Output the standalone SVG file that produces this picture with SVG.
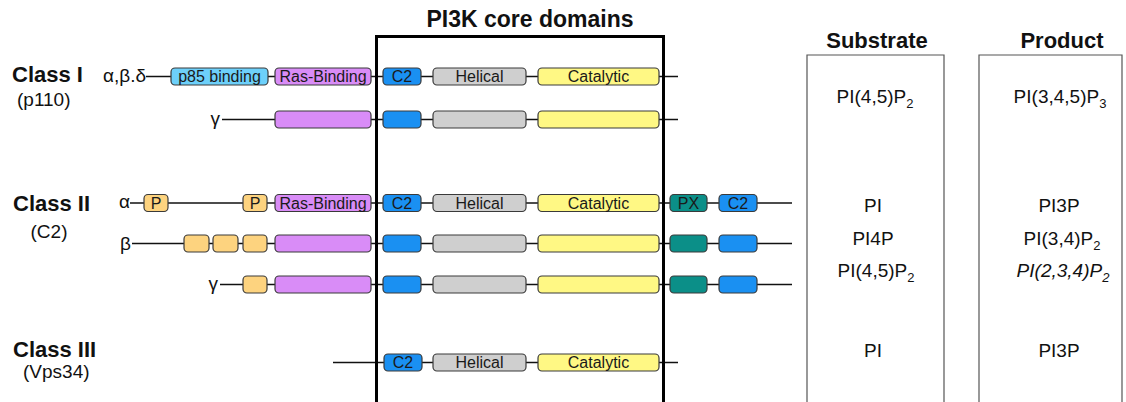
<svg xmlns="http://www.w3.org/2000/svg" width="1126" height="402" viewBox="0 0 1126 402">
<style>
text{font-family:"Liberation Sans",Arial,sans-serif;fill:#111}
.cls{font-size:22px;font-weight:bold}
.sub{font-size:19px}
.iso{font-size:19px}
.hdr{font-size:23px;font-weight:bold}
.lbl{font-size:16px;fill:#1a1a1a;text-anchor:middle}
.tb{font-size:19px;text-anchor:middle}
.dom{stroke:#3a3a3a;stroke-width:1.2;rx:4;ry:4}
.p85{fill:#6dd0fa}.ras{fill:#d98cf7}.c2{fill:#1a90f2}.hel{fill:#cfcfcf}.cat{fill:#fff884}.pp{fill:#fdd37f}.px{fill:#0b8f88}
.bb{stroke:#111;stroke-width:1.4;fill:none}
.tbl{stroke:#555;stroke-width:1.2;fill:none}
</style>

<g id="connectors">
<line class="bb" x1="146" y1="76.5" x2="678" y2="76.5"/>
<line class="bb" x1="222" y1="119.5" x2="678" y2="119.5"/>
<line class="bb" x1="130" y1="203" x2="792" y2="203"/>
<line class="bb" x1="132" y1="243.5" x2="792" y2="243.5"/>
<line class="bb" x1="220" y1="284.5" x2="792" y2="284.5"/>
<line class="bb" x1="333" y1="362.5" x2="678" y2="362.5"/>
</g>

<g id="core-box">
<rect x="376.5" y="36.5" width="287" height="380" fill="none" stroke="#000" stroke-width="3"/>
<text x="530" y="27" class="hdr" text-anchor="middle">PI3K core domains</text>
</g>

<g id="class-I">
<text x="12" y="82" class="cls">Class I</text>
<text x="17" y="106" class="sub">(p110)</text>
<text x="146" y="82" class="iso" text-anchor="end">α,β.δ</text>
<text x="220" y="125" class="iso" text-anchor="end">γ</text>
</g>
<g id="class-I-abd">
<rect class="dom p85" x="171" y="68" width="97" height="17"/><text class="lbl" x="219.5" y="82">p85 binding</text>
<rect class="dom ras" x="275" y="68" width="96" height="17"/><text class="lbl" x="323" y="82">Ras-Binding</text>
<rect class="dom c2" x="383" y="68" width="38" height="17"/><text class="lbl" x="402" y="82">C2</text>
<rect class="dom hel" x="433" y="68" width="93" height="17"/><text class="lbl" x="479.5" y="82">Helical</text>
<rect class="dom cat" x="538" y="68" width="121" height="17"/><text class="lbl" x="598.5" y="82">Catalytic</text>
</g>
<g id="class-I-g">
<rect class="dom ras" x="275" y="111" width="96" height="17"/>
<rect class="dom c2" x="383" y="111" width="38" height="17"/>
<rect class="dom hel" x="433" y="111" width="93" height="17"/>
<rect class="dom cat" x="538" y="111" width="121" height="17"/>
</g>

<g id="class-II">
<text x="13" y="211" class="cls">Class II</text>
<text x="49" y="238" class="sub" text-anchor="middle">(C2)</text>
<text x="130" y="208" class="iso" text-anchor="end">α</text>
<text x="131" y="250" class="iso" text-anchor="end">β</text>
<text x="218" y="290" class="iso" text-anchor="end">γ</text>
</g>
<g id="class-II-a">
<rect class="dom pp" x="144" y="194.5" width="24" height="17"/><text class="lbl" x="156" y="209">P</text>
<rect class="dom pp" x="243" y="194.5" width="24" height="17"/><text class="lbl" x="255" y="209">P</text>
<rect class="dom ras" x="275" y="194.5" width="96" height="17"/><text class="lbl" x="323" y="209">Ras-Binding</text>
<rect class="dom c2" x="383" y="194.5" width="38" height="17"/><text class="lbl" x="402" y="209">C2</text>
<rect class="dom hel" x="433" y="194.5" width="93" height="17"/><text class="lbl" x="479.5" y="209">Helical</text>
<rect class="dom cat" x="538" y="194.5" width="121" height="17"/><text class="lbl" x="598.5" y="209">Catalytic</text>
<rect class="dom px" x="670" y="194.5" width="37" height="17"/><text class="lbl" x="688.5" y="209">PX</text>
<rect class="dom c2" x="719" y="194.5" width="38" height="17"/><text class="lbl" x="738" y="209">C2</text>
</g>
<g id="class-II-b">
<rect class="dom pp" x="184" y="235" width="25" height="17"/>
<rect class="dom pp" x="213" y="235" width="25" height="17"/>
<rect class="dom pp" x="243" y="235" width="24" height="17"/>
<rect class="dom ras" x="275" y="235" width="96" height="17"/>
<rect class="dom c2" x="383" y="235" width="38" height="17"/>
<rect class="dom hel" x="433" y="235" width="93" height="17"/>
<rect class="dom cat" x="538" y="235" width="121" height="17"/>
<rect class="dom px" x="670" y="235" width="37" height="17"/>
<rect class="dom c2" x="719" y="235" width="38" height="17"/>
</g>
<g id="class-II-g">
<rect class="dom pp" x="243" y="276" width="24" height="17"/>
<rect class="dom ras" x="275" y="276" width="96" height="17"/>
<rect class="dom c2" x="383" y="276" width="38" height="17"/>
<rect class="dom hel" x="433" y="276" width="93" height="17"/>
<rect class="dom cat" x="538" y="276" width="121" height="17"/>
<rect class="dom px" x="670" y="276" width="37" height="17"/>
<rect class="dom c2" x="719" y="276" width="38" height="17"/>
</g>

<g id="class-III">
<text x="13" y="357" class="cls">Class III</text>
<text x="23" y="378" class="sub">(Vps34)</text>
<rect class="dom c2" x="384" y="354" width="38" height="17"/><text class="lbl" x="403" y="368">C2</text>
<rect class="dom hel" x="433" y="354" width="93" height="17"/><text class="lbl" x="479.5" y="368">Helical</text>
<rect class="dom cat" x="538" y="354" width="121" height="17"/><text class="lbl" x="598.5" y="368">Catalytic</text>
</g>

<g id="substrate">
<polyline class="tbl" points="807,410 807,55 944,55 944,410"/>
<text x="877" y="48" class="hdr" text-anchor="middle" style="font-size:22px">Substrate</text>
<text class="tb" x="875" y="103">PI(4,5)P<tspan font-size="13" dy="5">2</tspan></text>
<text class="tb" x="873" y="212">PI</text>
<text class="tb" x="873" y="245">PI4P</text>
<text class="tb" x="876" y="277">PI(4,5)P<tspan font-size="13" dy="5">2</tspan></text>
<text class="tb" x="873" y="357">PI</text>
</g>

<g id="product">
<polyline class="tbl" points="979,410 979,55 1122,55 1122,410"/>
<text x="1062" y="48" class="hdr" text-anchor="middle" style="font-size:22px">Product</text>
<text class="tb" x="1060" y="103">PI(3,4,5)P<tspan font-size="13" dy="5">3</tspan></text>
<text class="tb" x="1059" y="212">PI3P</text>
<text class="tb" x="1062" y="245">PI(3,4)P<tspan font-size="13" dy="5">2</tspan></text>
<text class="tb" x="1063" y="277" font-style="italic">PI(2,3,4)P<tspan font-size="13" dy="5">2</tspan></text>
<text class="tb" x="1059" y="357">PI3P</text>
</g>
</svg>
